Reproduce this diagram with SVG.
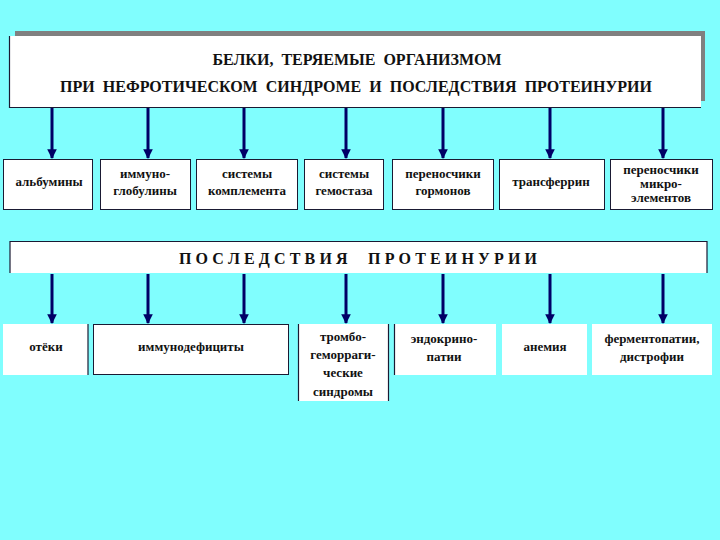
<svg xmlns="http://www.w3.org/2000/svg" width="720" height="540" viewBox="0 0 720 540" font-family="Liberation Serif, DejaVu Serif, serif">
<defs>
<style>
text{font-weight:bold;fill:#111;text-anchor:middle;white-space:pre}
.t{font-size:16px}
.b{font-size:13px}
.box{fill:#fff;stroke:#1a1a33;stroke-width:1}
.wb{fill:#fff}
.edge{stroke:#000066;stroke-width:3;fill:none;marker-end:url(#ah)}
.ln{stroke:#1a1a33;stroke-width:1.2;fill:none}
</style>
<marker id="ah" viewBox="0 0 10 10" refX="9" refY="5" markerWidth="3.2" markerHeight="3.2" orient="auto" markerUnits="strokeWidth">
<path d="M0,0 L10,5 L0,10 z" fill="#000066"/>
</marker>
</defs>
<rect width="720" height="540" fill="#80fefe"/>

<g id="header">
<rect x="15" y="31" width="690" height="70" fill="#808080"/>
<rect x="9" y="36" width="692" height="71" fill="#fff"/>
<path class="ln" d="M9.5,36 V107.5 H701"/>
<text class="t" x="357" y="65" xml:space="preserve">БЕЛКИ,  ТЕРЯЕМЫЕ  ОРГАНИЗМОМ</text>
<text class="t" x="356" y="92" textLength="592" lengthAdjust="spacing" xml:space="preserve">ПРИ  НЕФРОТИЧЕСКОМ  СИНДРОМЕ  И  ПОСЛЕДСТВИЯ  ПРОТЕИНУРИИ</text>
</g>

<g id="connectors">
<line class="edge" x1="52" y1="108" x2="52" y2="158"/>
<line class="edge" x1="148" y1="108" x2="148" y2="158"/>
<line class="edge" x1="244" y1="108" x2="244" y2="158"/>
<line class="edge" x1="346" y1="108" x2="346" y2="158"/>
<line class="edge" x1="443" y1="108" x2="443" y2="158"/>
<line class="edge" x1="550" y1="108" x2="550" y2="158"/>
<line class="edge" x1="663" y1="108" x2="663" y2="158"/>
<line class="edge" x1="52" y1="274" x2="52" y2="323"/>
<line class="edge" x1="148" y1="274" x2="148" y2="323"/>
<line class="edge" x1="244" y1="274" x2="244" y2="323"/>
<line class="edge" x1="346" y1="274" x2="346" y2="323"/>
<line class="edge" x1="443" y1="274" x2="443" y2="323"/>
<line class="edge" x1="550" y1="274" x2="550" y2="323"/>
<line class="edge" x1="663" y1="274" x2="663" y2="323"/>
</g>

<g id="albuminy">
<rect class="box" x="3.5" y="159.5" width="89" height="50"/>
<text class="b" x="49" y="186">альбумины</text>
</g>
<g id="immunoglobuliny">
<rect class="box" x="100.5" y="159.5" width="90" height="50"/>
<text class="b" x="145" y="178">иммуно-</text>
<text class="b" x="145" y="195">глобулины</text>
</g>
<g id="komplement">
<rect class="box" x="196.5" y="159.5" width="101" height="50"/>
<text class="b" x="247" y="178">системы</text>
<text class="b" x="247" y="195">комплемента</text>
</g>
<g id="gemostaz">
<rect class="box" x="304.5" y="159.5" width="79" height="50"/>
<text class="b" x="344" y="178">системы</text>
<text class="b" x="344" y="195">гемостаза</text>
</g>
<g id="gormony">
<rect class="box" x="392.5" y="159.5" width="101" height="50"/>
<text class="b" x="443" y="178">переносчики</text>
<text class="b" x="443" y="195">гормонов</text>
</g>
<g id="transferrin">
<rect class="box" x="499.5" y="159.5" width="105" height="50"/>
<text class="b" x="551" y="186">трансферрин</text>
</g>
<g id="mikroelementy">
<rect class="box" x="610.5" y="159.5" width="102" height="50"/>
<text class="b" x="661" y="174">переносчики</text>
<text class="b" x="661" y="188">микро-</text>
<text class="b" x="661" y="202">элементов</text>
</g>

<g id="banner2">
<rect x="10" y="241" width="697" height="32" fill="#fff"/>
<path class="ln" d="M10,273 V241.5 H707 V273"/>
<text class="t" x="358" y="264" textLength="358" lengthAdjust="spacing" xml:space="preserve">П О С Л Е Д С Т В И Я     П Р О Т Е И Н У Р И И</text>
</g>

<g id="oteki">
<rect class="wb" x="3" y="324" width="85" height="51"/>
<line class="ln" x1="88" y1="324" x2="88" y2="375"/>
<text class="b" x="46" y="351">отёки</text>
</g>
<g id="immunodeficity">
<rect class="box" x="93.5" y="324.5" width="195" height="50"/>
<text class="b" x="191" y="351">иммунодефициты</text>
</g>
<g id="trombo">
<rect class="wb" x="298" y="324" width="90" height="77"/>
<path class="ln" d="M298.5,324 V401 M388.5,324 V401"/>
<text class="b" x="343" y="341">тромбо-</text>
<text class="b" x="343" y="359">геморраги-</text>
<text class="b" x="343" y="377">ческие</text>
<text class="b" x="343" y="396">синдромы</text>
</g>
<g id="endokrinopatii">
<rect class="wb" x="394" y="324" width="102" height="51"/>
<line class="ln" x1="394.5" y1="324" x2="394.5" y2="375"/>
<text class="b" x="444" y="343">эндокрино-</text>
<text class="b" x="444" y="361">патии</text>
</g>
<g id="anemiya">
<rect class="wb" x="502" y="324" width="85" height="51"/>
<text class="b" x="545" y="351">анемия</text>
</g>
<g id="fermentopatii">
<rect class="wb" x="592" y="324" width="120" height="51"/>
<text class="b" x="652" y="343">ферментопатии,</text>
<text class="b" x="652" y="361">дистрофии</text>
</g>
</svg>
